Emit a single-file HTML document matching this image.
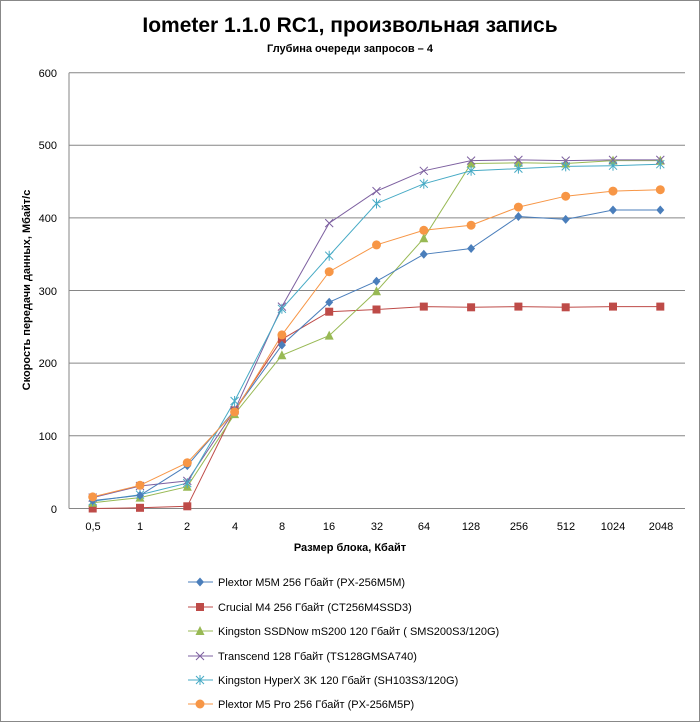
<!DOCTYPE html>
<html><head><meta charset="utf-8"><style>
body{margin:0;background:#fff}
svg{display:block;font-family:"Liberation Sans","DejaVu Sans",sans-serif}
</style></head><body>
<svg width="700" height="722" viewBox="0 0 700 722" xmlns="http://www.w3.org/2000/svg" xmlns:xlink="http://www.w3.org/1999/xlink">
<defs>
<path id="dia" d="M0,-4.5L4,0L0,4.5L-4,0Z" fill="#4a7ebb"/>
<rect id="sq" x="-4" y="-4" width="8" height="8" fill="#be4b48"/>
<path id="tri" d="M0,-5L4.5,4L-4.5,4Z" fill="#98b954"/>
<path id="xx" d="M-4,-4L4,4M-4,4L4,-4" stroke="#7d60a0" stroke-width="1"/>
<path id="st" d="M-4,-4L4,4M-4,4L4,-4M0,-5V5" stroke="#46aac5" stroke-width="1"/>
<circle id="ci" r="4.5" fill="#f79646"/>
</defs>
<rect x="0.5" y="0.5" width="699" height="721" fill="#fff" stroke="#888"/>
<text x="350" y="32" font-size="21" font-weight="bold" text-anchor="middle">Iometer 1.1.0 RC1, произвольная запись</text>
<text x="350" y="52" font-size="11" font-weight="bold" text-anchor="middle">Глубина очереди запросов – 4</text>
<g stroke="#868686" stroke-width="1">
<line x1="69" y1="72.7" x2="685" y2="72.7"/>
<line x1="69" y1="145.3" x2="685" y2="145.3"/>
<line x1="69" y1="217.9" x2="685" y2="217.9"/>
<line x1="69" y1="290.5" x2="685" y2="290.5"/>
<line x1="69" y1="363.1" x2="685" y2="363.1"/>
<line x1="69" y1="435.7" x2="685" y2="435.7"/>
<line x1="69" y1="508.5" x2="685" y2="508.5"/>
<line x1="69" y1="72.7" x2="69" y2="508.5"/>
</g>
<g font-size="11" text-anchor="end">
<text x="57" y="77">600</text><text x="57" y="149">500</text><text x="57" y="222">400</text>
<text x="57" y="295">300</text><text x="57" y="367">200</text><text x="57" y="440">100</text><text x="57" y="513">0</text>
</g>
<g font-size="11" text-anchor="middle">
<text x="93" y="530">0,5</text><text x="140" y="530">1</text><text x="187" y="530">2</text><text x="235" y="530">4</text>
<text x="282" y="530">8</text><text x="329" y="530">16</text><text x="377" y="530">32</text><text x="424" y="530">64</text>
<text x="471" y="530">128</text><text x="519" y="530">256</text><text x="566" y="530">512</text><text x="613" y="530">1024</text><text x="661" y="530">2048</text>
</g>
<text x="350" y="551" font-size="11" font-weight="bold" text-anchor="middle">Размер блока, Кбайт</text>
<text transform="translate(30,290) rotate(-90)" font-size="11" font-weight="bold" text-anchor="middle">Скорость  передачи данных, Мбайт/с</text>

<g fill="none" stroke-width="1">
<polyline stroke="#be4b48" points="92.7,508.5 140,507.8 187.3,506.3 234.6,410.4 281.9,339.3 329.2,311.7 376.5,309.5 423.8,306.6 471.1,307.3 518.4,306.6 565.7,307.3 613,306.6 660.3,306.6"/>
<polyline stroke="#98b954" points="92.7,502.7 140,497.6 187.3,486.7 234.6,414.1 281.9,355.3 329.2,335.6 376.5,291.3 423.8,238.3 471.1,163.5 518.4,162.8 565.7,163.5 613,160.6 660.3,160.6"/>
<polyline stroke="#7d60a0" points="92.7,497.6 140,486 187.3,480.9 234.6,410.4 281.9,306.6 329.2,223.1 376.5,191.1 423.8,170.8 471.1,160.6 518.4,159.9 565.7,160.6 613,159.9 660.3,159.9"/>
<polyline stroke="#46aac5" points="92.7,501.2 140,494.7 187.3,483.1 234.6,401 281.9,308.8 329.2,255.7 376.5,203.5 423.8,183.8 471.1,170.8 518.4,168.6 565.7,166.4 613,165.7 660.3,164.2"/>
<polyline stroke="#4a7ebb" points="92.7,500.5 140,495.4 187.3,465.6 234.6,410.4 281.9,345.1 329.2,302.2 376.5,281.2 423.8,254.3 471.1,248.5 518.4,216.5 565.7,219.4 613,210 660.3,210"/>
<polyline stroke="#f79646" points="92.7,496.9 140,485.3 187.3,462.7 234.6,411.9 281.9,334.9 329.2,271.7 376.5,244.9 423.8,230.3 471.1,225.2 518.4,207.1 565.7,196.2 613,191.1 660.3,189.7"/>
</g>
<g>
<use xlink:href="#sq" x="92.7" y="508.5"/><use xlink:href="#sq" x="140" y="507.8"/><use xlink:href="#sq" x="187.3" y="506.3"/><use xlink:href="#sq" x="234.6" y="410.4"/><use xlink:href="#sq" x="281.9" y="339.3"/><use xlink:href="#sq" x="329.2" y="311.7"/><use xlink:href="#sq" x="376.5" y="309.5"/><use xlink:href="#sq" x="423.8" y="306.6"/><use xlink:href="#sq" x="471.1" y="307.3"/><use xlink:href="#sq" x="518.4" y="306.6"/><use xlink:href="#sq" x="565.7" y="307.3"/><use xlink:href="#sq" x="613" y="306.6"/><use xlink:href="#sq" x="660.3" y="306.6"/>
<use xlink:href="#tri" x="92.7" y="502.7"/><use xlink:href="#tri" x="140" y="497.6"/><use xlink:href="#tri" x="187.3" y="486.7"/><use xlink:href="#tri" x="234.6" y="414.1"/><use xlink:href="#tri" x="281.9" y="355.3"/><use xlink:href="#tri" x="329.2" y="335.6"/><use xlink:href="#tri" x="376.5" y="291.3"/><use xlink:href="#tri" x="423.8" y="238.3"/><use xlink:href="#tri" x="471.1" y="163.5"/><use xlink:href="#tri" x="518.4" y="162.8"/><use xlink:href="#tri" x="565.7" y="163.5"/><use xlink:href="#tri" x="613" y="160.6"/><use xlink:href="#tri" x="660.3" y="160.6"/>
<use xlink:href="#xx" x="92.7" y="497.6"/><use xlink:href="#xx" x="140" y="486"/><use xlink:href="#xx" x="187.3" y="480.9"/><use xlink:href="#xx" x="234.6" y="410.4"/><use xlink:href="#xx" x="281.9" y="306.6"/><use xlink:href="#xx" x="329.2" y="223.1"/><use xlink:href="#xx" x="376.5" y="191.1"/><use xlink:href="#xx" x="423.8" y="170.8"/><use xlink:href="#xx" x="471.1" y="160.6"/><use xlink:href="#xx" x="518.4" y="159.9"/><use xlink:href="#xx" x="565.7" y="160.6"/><use xlink:href="#xx" x="613" y="159.9"/><use xlink:href="#xx" x="660.3" y="159.9"/>
<use xlink:href="#st" x="92.7" y="501.2"/><use xlink:href="#st" x="140" y="494.7"/><use xlink:href="#st" x="187.3" y="483.1"/><use xlink:href="#st" x="234.6" y="401"/><use xlink:href="#st" x="281.9" y="308.8"/><use xlink:href="#st" x="329.2" y="255.7"/><use xlink:href="#st" x="376.5" y="203.5"/><use xlink:href="#st" x="423.8" y="183.8"/><use xlink:href="#st" x="471.1" y="170.8"/><use xlink:href="#st" x="518.4" y="168.6"/><use xlink:href="#st" x="565.7" y="166.4"/><use xlink:href="#st" x="613" y="165.7"/><use xlink:href="#st" x="660.3" y="164.2"/>
<use xlink:href="#dia" x="92.7" y="500.5"/><use xlink:href="#dia" x="140" y="495.4"/><use xlink:href="#dia" x="187.3" y="465.6"/><use xlink:href="#dia" x="234.6" y="410.4"/><use xlink:href="#dia" x="281.9" y="345.1"/><use xlink:href="#dia" x="329.2" y="302.2"/><use xlink:href="#dia" x="376.5" y="281.2"/><use xlink:href="#dia" x="423.8" y="254.3"/><use xlink:href="#dia" x="471.1" y="248.5"/><use xlink:href="#dia" x="518.4" y="216.5"/><use xlink:href="#dia" x="565.7" y="219.4"/><use xlink:href="#dia" x="613" y="210"/><use xlink:href="#dia" x="660.3" y="210"/>
<use xlink:href="#ci" x="92.7" y="496.9"/><use xlink:href="#ci" x="140" y="485.3"/><use xlink:href="#ci" x="187.3" y="462.7"/><use xlink:href="#ci" x="234.6" y="411.9"/><use xlink:href="#ci" x="281.9" y="334.9"/><use xlink:href="#ci" x="329.2" y="271.7"/><use xlink:href="#ci" x="376.5" y="244.9"/><use xlink:href="#ci" x="423.8" y="230.3"/><use xlink:href="#ci" x="471.1" y="225.2"/><use xlink:href="#ci" x="518.4" y="207.1"/><use xlink:href="#ci" x="565.7" y="196.2"/><use xlink:href="#ci" x="613" y="191.1"/><use xlink:href="#ci" x="660.3" y="189.7"/>
</g>

<g font-size="11">
<line x1="188" y1="582" x2="213" y2="582" stroke="#4a7ebb"/><use xlink:href="#dia" x="200" y="582"/><text x="218" y="586">Plextor M5M 256 Гбайт (PX-256M5M)</text>
<line x1="188" y1="607" x2="213" y2="607" stroke="#be4b48"/><use xlink:href="#sq" x="200" y="607"/><text x="218" y="611">Crucial M4 256 Гбайт (CT256M4SSD3)</text>
<line x1="188" y1="631" x2="213" y2="631" stroke="#98b954"/><use xlink:href="#tri" x="200" y="631"/><text x="218" y="635">Kingston SSDNow  mS200 120 Гбайт ( SMS200S3/120G)</text>
<line x1="188" y1="656" x2="213" y2="656" stroke="#7d60a0"/><use xlink:href="#xx" x="200" y="656"/><text x="218" y="660">Transcend 128 Гбайт (TS128GMSA740)</text>
<line x1="188" y1="680" x2="213" y2="680" stroke="#46aac5"/><use xlink:href="#st" x="200" y="680"/><text x="218" y="684">Kingston HyperX  3K 120 Гбайт (SH103S3/120G)</text>
<line x1="188" y1="704" x2="213" y2="704" stroke="#f79646"/><use xlink:href="#ci" x="200" y="704"/><text x="218" y="708">Plextor M5 Pro 256 Гбайт (PX-256M5P)</text>
</g>
</svg>
</body></html>
